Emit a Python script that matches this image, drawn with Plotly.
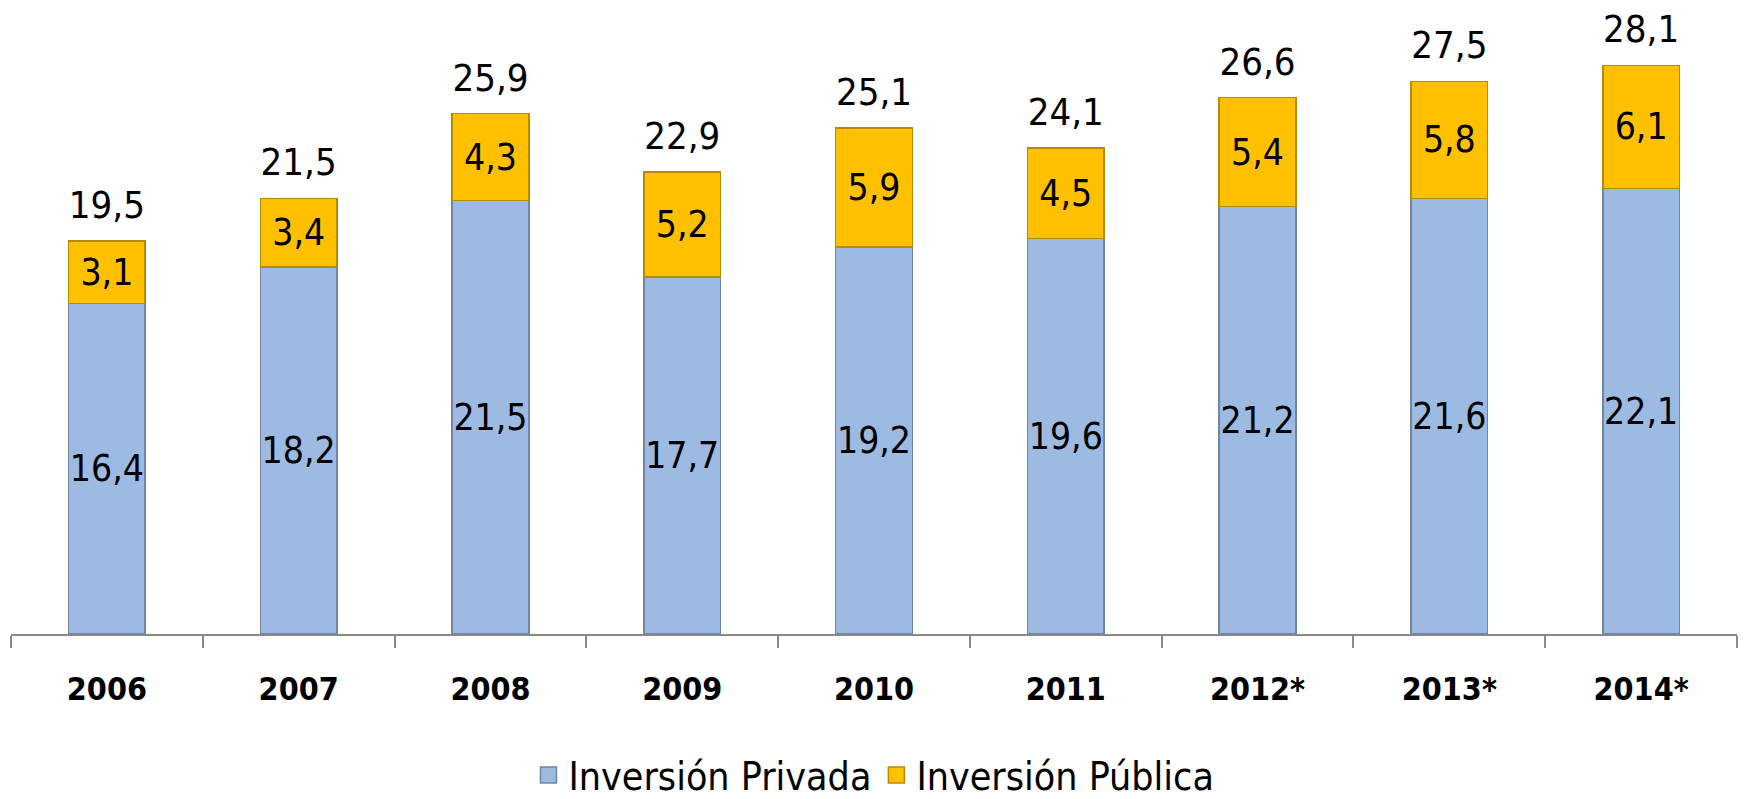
import plotly.graph_objects as go

# datos
years = ["2006", "2007", "2008", "2009", "2010", "2011", "2012*", "2013*", "2014*"]
privada = [16.4, 18.2, 21.5, 17.7, 19.2, 19.6, 21.2, 21.6, 22.1]
publica = [3.1, 3.4, 4.3, 5.2, 5.9, 4.5, 5.4, 5.8, 6.1]
totales = [19.5, 21.5, 25.9, 22.9, 25.1, 24.1, 26.6, 27.5, 28.1]

_FONT = "DejaVu Sans Condensed, Liberation Sans Narrow, sans-serif"
_BLUE = "#9dbae2"
_GOLD = "#ffc000"
_BLUE_EDGE = "#6f86a6"
_GOLD_EDGE = "#b88a00"


def fmt(v):
    return f"{v:.1f}".replace(".", ",")


fig = go.Figure()
fig.add_trace(go.Bar(
    x=years, y=privada, name="Inversión Privada", showlegend=False,
    marker=dict(color=_BLUE, line=dict(color=_BLUE_EDGE, width=1.5)),
    text=[fmt(v) for v in privada], textposition="inside",
    insidetextanchor="middle", constraintext="none", textangle=0,
    textfont=dict(family=_FONT, size=37, color="black"),
))
fig.add_trace(go.Bar(
    x=years, y=publica, name="Inversión Pública", showlegend=False,
    marker=dict(color=_GOLD, line=dict(color=_GOLD_EDGE, width=1.5)),
    text=[fmt(v) for v in publica], textposition="inside",
    insidetextanchor="middle", constraintext="none", textangle=0,
    textfont=dict(family=_FONT, size=37, color="black"),
))
# totales encima de cada barra
fig.add_trace(go.Scatter(
    x=years, y=[a + b for a, b in zip(privada, publica)],
    mode="markers+text", text=[fmt(v) for v in totales],
    textposition="top center", cliponaxis=False,
    marker=dict(size=20, color="rgba(0,0,0,0)"),
    textfont=dict(family=_FONT, size=38, color="black"),
    showlegend=False, hoverinfo="skip",
))
# leyenda con cuadrados más grandes
for name, col, edge in [("Inversión Privada", _BLUE, _BLUE_EDGE),
                        ("Inversión Pública", _GOLD, _GOLD_EDGE)]:
    fig.add_trace(go.Scatter(
        x=[None], y=[None], mode="markers", name=name,
        marker=dict(symbol="square", size=20, color=col,
                    line=dict(color=edge, width=1.5)),
    ))

fig.update_layout(
    barmode="stack",
    bargap=0.6,
    width=1744, height=799,
    paper_bgcolor="white", plot_bgcolor="white",
    margin=dict(l=11, r=7, t=29, b=165),
    font=dict(family=_FONT, color="black"),
    xaxis=dict(
        automargin=False, range=[-0.5, 8.5],
        showline=True, linecolor="#898989", linewidth=2,
        ticks="outside", tickson="boundaries", ticklen=12,
        tickcolor="#898989", tickwidth=2,
        tickfont=dict(family=_FONT, size=32, color="black", weight="bold"),
        ticklabelstandoff=26,
    ),
    yaxis=dict(visible=False, range=[0, 30], automargin=False),
    legend=dict(
        orientation="h", x=0.5, xanchor="center",
        yref="container", y=0.03, yanchor="middle",
        font=dict(family=_FONT, size=39, color="black"),
        traceorder="normal", itemsizing="trace",
    ),
    showlegend=True,
)

fig.write_html("out.html", config={"displayModeBar": False},
               post_script="document.body.style.margin='0';")
